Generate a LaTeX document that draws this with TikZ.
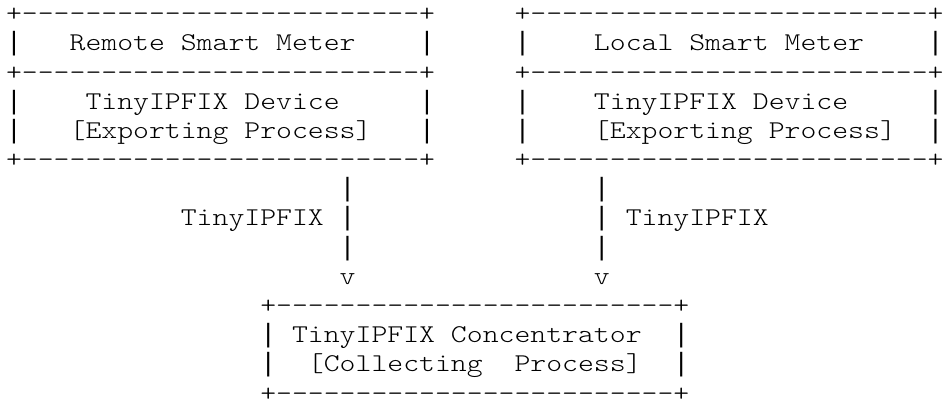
\documentclass[tikz,border=0pt]{standalone}
\usepackage{fontspec}
\newfontfamily\asciifont{Latin Modern Mono Light}[FakeStretch=1.1823]
\newfontfamily\barfont{Liberation Mono}
\frenchspacing
\tikzset{
  cell/.style={font=\asciifont\fontsize{12.8pt}{14pt}\selectfont, inner sep=0pt, outer sep=0pt, anchor=base west, text=black},
  barcell/.style={cell, font=\barfont\fontsize{13.24pt}{14pt}\selectfont},
}
% #1 name, #2 column, #3 row (0-based), #4 text
\newcommand{\asc}[4]{\node[cell] (#1) at ({3.0275pt+#2*7.945pt},{-10.9pt-#3*14.585pt}) {#4};}
% vertical bar character: #1 name, #2 column, #3 row (0-based)
\newcommand{\vb}[3]{\node[barcell] (#1) at ({3.0275pt+#2*7.945pt},{-10.9pt-#3*14.585pt}) {|};}
\begin{document}
\begin{tikzpicture}
\useasboundingbox (0,0) rectangle (472pt,-202.5pt);
% Remote Smart Meter box
\asc{rA}{0}{0}{+-------------------------+}
\vb{rB}{0}{1}
\asc{rT}{4}{1}{Remote Smart Meter}
\vb{rC}{26}{1}
\asc{rD}{0}{2}{+-------------------------+}
\vb{rE}{0}{3}
\asc{rDev}{5}{3}{TinyIPFIX Device}
\vb{rF}{26}{3}
\vb{rG}{0}{4}
\asc{rExp}{4}{4}{[Exporting Process]}
\vb{rH}{26}{4}
\asc{rI}{0}{5}{+-------------------------+}
% Local Smart Meter box
\asc{lA}{32}{0}{+-------------------------+}
\vb{lB}{32}{1}
\asc{lT}{37}{1}{Local Smart Meter}
\vb{lC}{58}{1}
\asc{lD}{32}{2}{+-------------------------+}
\vb{lE}{32}{3}
\asc{lDev}{37}{3}{TinyIPFIX Device}
\vb{lF}{58}{3}
\vb{lG}{32}{4}
\asc{lExp}{37}{4}{[Exporting Process]}
\vb{lH}{58}{4}
\asc{lI}{32}{5}{+-------------------------+}
% connectors
\vb{a1}{21}{6}
\asc{aLab}{11}{7}{TinyIPFIX}
\vb{a2}{21}{7}
\vb{a3}{21}{8}
\asc{aHead}{21}{9}{v}
\vb{b1}{37}{6}
\vb{b2}{37}{7}
\asc{bLab}{39}{7}{TinyIPFIX}
\vb{b3}{37}{8}
\asc{bHead}{37}{9}{v}
% Concentrator box
\asc{cA}{16}{10}{+-------------------------+}
\vb{cB}{16}{11}
\asc{cT}{18}{11}{TinyIPFIX Concentrator}
\vb{cC}{42}{11}
\vb{cD}{16}{12}
\asc{cP}{19}{12}{[Collecting\ \ Process]}
\vb{cE}{42}{12}
\asc{cF}{16}{13}{+-------------------------+}
\end{tikzpicture}
\end{document}
